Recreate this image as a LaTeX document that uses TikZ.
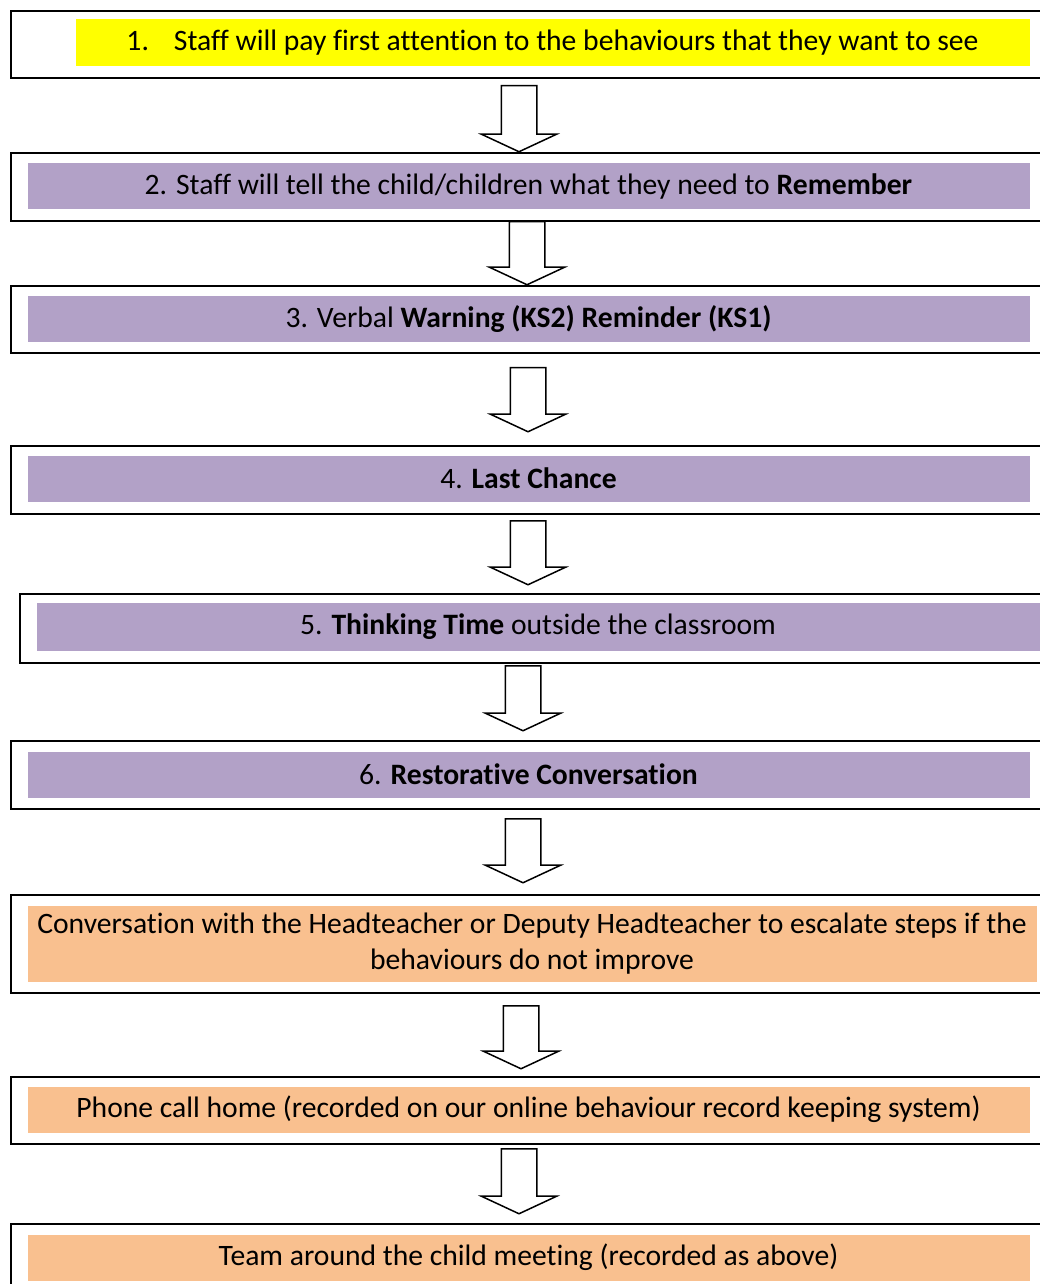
\documentclass[tikz,border=0pt]{standalone}
\usepackage{fontspec}
\setmainfont{Carlito}[Ligatures={NoCommon,NoContextual,NoRequired},RawFeature={-calt}]
\usetikzlibrary{shapes.arrows}
\definecolor{hiyellow}{RGB}{255,255,0}
\definecolor{lilac}{RGB}{178,161,199}
\definecolor{peach}{RGB}{249,192,143}

\begin{document}
\begin{tikzpicture}[x=0.4pt,y=-0.4pt,
    frame/.style={draw=black,line width=0.8pt,anchor=north west,inner sep=0pt,
      minimum width={1040*0.4pt}},
    bar/.style={fill=lilac,anchor=north west,inner sep=0pt,align=center,
      font=\fontsize{11.85pt}{14.4pt}\selectfont,minimum width={1002*0.4pt},
      minimum height={46*0.4pt}},
    down/.style={draw=black,fill=white,line width=0.6pt,single arrow,rotate=-90,
      anchor=tail,inner xsep=0pt,inner ysep={17*0.4pt},
      single arrow head extend={20*0.4pt},single arrow tip angle=130}]
\useasboundingbox (0,0) rectangle (1039,1284);
% outer frames
\node[frame,minimum height={67*0.4pt}] (f1) at (10,10) {};
\node[frame,minimum height={68*0.4pt}] (f2) at (10,152) {};
\node[frame,minimum height={67*0.4pt}] (f3) at (10,285) {};
\node[frame,minimum height={68*0.4pt}] (f4) at (10,445) {};
\node[frame,minimum height={69*0.4pt}] (f5) at (19,593) {};
\node[frame,minimum height={68*0.4pt}] (f6) at (10,740) {};
\node[frame,minimum height={98*0.4pt}] (f7) at (10,894) {};
\node[frame,minimum height={67*0.4pt}] (f8) at (10,1076) {};
\node[frame,minimum height={70*0.4pt}] (f9) at (10,1223) {};
% coloured bars with the steps
\node[bar,fill=hiyellow,minimum width={954*0.4pt},minimum height={47*0.4pt}] (b1) at (75,19)
  {1.\hspace{10pt}Staff will pay first attention to the behaviours that they want to see};
\node[bar] (b2) at (27,163) {2. Staff will tell the child/children what they need to \textbf{Remember}};
\node[bar] (b3) at (27,296) {3. Verbal \textbf{Warning (KS2) Reminder (KS1)}};
\node[bar] (b4) at (27,455) {4. \textbf{Last Chance}};
\node[bar,minimum width={1003*0.4pt},minimum height={48*0.4pt}] (b5) at (36,602)
  {5. \textbf{Thinking Time} outside the classroom};
\node[bar] (b6) at (27,751) {6. \textbf{Restorative Conversation}};
\node[bar,fill=peach,minimum width={1009*0.4pt},minimum height={76*0.4pt}] (b7) at (27,905)
  {Conversation with the Headteacher or Deputy Headteacher to escalate steps if the\\
   behaviours do not improve};
\node[bar,fill=peach] (b8) at (27,1086) {Phone call home (recorded on our online behaviour record keeping system)};
\node[bar,fill=peach] (b9) at (27,1234) {Team around the child meeting (recorded as above)};
% block arrows
\node[down,minimum height={66*0.4pt}] (a1) at (519,85) {};
\node[down,minimum height={63*0.4pt}] (a2) at (527,221) {};
\node[down,minimum height={64*0.4pt}] (a3) at (528,367) {};
\node[down,minimum height={64*0.4pt}] (a4) at (528,520) {};
\node[down,minimum height={65*0.4pt}] (a5) at (523,665) {};
\node[down,minimum height={64*0.4pt}] (a6) at (523,818) {};
\node[down,minimum height={63*0.4pt}] (a7) at (521,1005) {};
\node[down,minimum height={65*0.4pt}] (a8) at (519,1148) {};
\end{tikzpicture}
\end{document}
